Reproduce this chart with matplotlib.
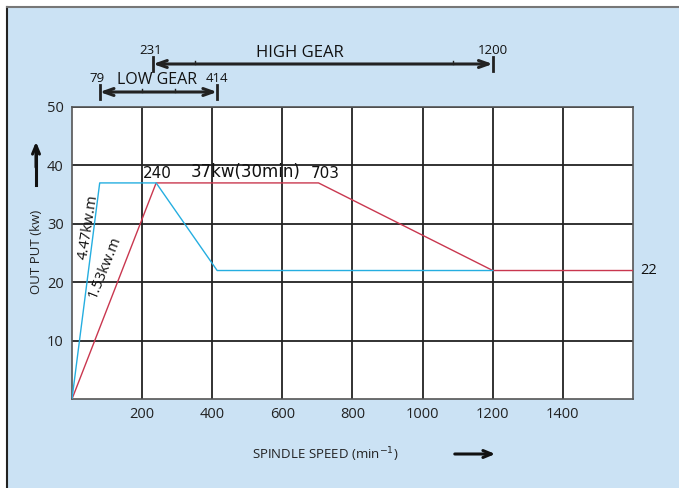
import matplotlib
matplotlib.use("Agg")
import matplotlib.pyplot as plt
from matplotlib.lines import Line2D
import matplotlib.transforms as mtransforms

# ---- data ----
cyan_speed = [0, 79, 240, 414, 1200]
cyan_power = [0, 37, 37, 22, 22]
red_speed = [0, 240, 703, 1200, 1600]
red_power = [0, 37, 37, 22, 22]
x_ticks = [200, 400, 600, 800, 1000, 1200, 1400]
y_ticks = [10, 20, 30, 40, 50]
low_gear = (79, 414)
high_gear = (231, 1200)
low_gear_marks = [200, 294]
high_gear_marks = [351, 1086]

BG = "#cbe2f4"
CYAN = "#25aee0"
RED = "#c9374f"

plt.rcParams['font.family'] = ['Open Sans', 'DejaVu Sans']

fig = plt.figure(figsize=(6.79, 4.88), dpi=100)
fig.patch.set_facecolor("white")
# blue panel with border
panel = plt.Rectangle((7/679, 0), 1 - 7/679, 1 - 7/488, transform=fig.transFigure,
                      facecolor=BG, edgecolor="none", zorder=-10)
fig.patches.append(panel)
fig.add_artist(Line2D([7/679, 7/679], [0, 1 - 6.5/488], transform=fig.transFigure,
                      color="#222222", lw=1.5, zorder=-5))
fig.add_artist(Line2D([7/679, 1], [1 - 6.5/488, 1 - 6.5/488], transform=fig.transFigure,
                      color="#777777", lw=1.5, zorder=-5))

ax = fig.add_axes([72/679, 1 - 399/488, (633 - 72)/679, (399 - 107)/488])
ax.set_facecolor("white")
ax.set_xlim(0, 1600)
ax.set_ylim(0, 50)
ax.set_xticks(x_ticks)
ax.set_yticks(y_ticks)
ax.tick_params(length=0, labelsize=10.5, pad=6, colors="#222222")
ax.grid(True, color="#222222", lw=1.3)
ax.set_axisbelow(True)
for s in ax.spines.values():
    s.set_color("#555555")
    s.set_linewidth(1.2)

ax.plot(red_speed, red_power, color=RED, lw=1.0, zorder=3)
ax.plot(cyan_speed, cyan_power, color=CYAN, lw=1.0, zorder=3)

# annotations inside
ax.text(red_speed[1] + 4, 37.3, "240", fontsize=11, family="DejaVu Sans", ha="center",
        va="bottom", color="#111111")
ax.text(494, 37.3, "37kw(30min)", fontsize=12, family="DejaVu Sans", ha="center",
        va="bottom", color="#111111")
ax.text(red_speed[2] + 20, 37.3, "703", fontsize=11, family="DejaVu Sans", ha="center",
        va="bottom", color="#111111")
ax.text(1620, red_power[-1], "22", fontsize=10.5, ha="left", va="center",
        color="#111111", clip_on=False)
ax.text(46, 29.5, "4.47kw.m", fontsize=10.5, rotation=81, ha="center", va="center",
        color="#111111")
ax.text(92, 22.5, "1.53kw.m", fontsize=10.5, rotation=68, ha="center", va="center",
        color="#111111")

# gear arrows (x in data, y in figure)
trans = mtransforms.blended_transform_factory(ax.transData, fig.transFigure)

def gear(rng, marks, ypix, label_y, dx0, dx1):
    y = 1 - ypix / 488
    ax.annotate("", xy=(rng[1], y), xytext=(rng[0], y), xycoords=trans, textcoords=trans,
                arrowprops=dict(arrowstyle="<->,head_length=0.7,head_width=0.25",
                                lw=2.2, color="#222222", shrinkA=0, shrinkB=0),
                annotation_clip=False)
    for xv in rng:
        ax.add_artist(Line2D([xv, xv], [y - 7/488, y + 7/488], transform=trans,
                             color="#222222", lw=2.0, clip_on=False))
    for xv in marks:
        ax.add_artist(Line2D([xv, xv], [y, y + 3/488], transform=trans,
                             color="#222222", lw=1.0, clip_on=False))
    ly = 1 - label_y / 488
    ax.text(rng[0] + dx0, ly, str(rng[0]), transform=trans, fontsize=9.5, ha="center",
            va="center", color="#111111")
    ax.text(rng[1] + dx1, ly, str(rng[1]), transform=trans, fontsize=9.5, ha="center",
            va="center", color="#111111")

gear(high_gear, high_gear_marks, 64, 51, -8, 0)
gear(low_gear, low_gear_marks, 92, 79, -8, 0)
fig.text(300/679, 1 - 53/488, "HIGH GEAR", fontsize=12, ha="center",
         va="center", color="#111111")
fig.text(157/679, 1 - 80/488, "LOW GEAR", fontsize=11.5, ha="center",
         va="center", color="#111111")

# axis labels
fig.text(37/679, 1 - 252/488, "OUT PUT (kw)", rotation=90, fontsize=9.5, ha="center",
         va="center", color="#222222")
fig.add_artist(plt.Line2D([36/679, 36/679], [1 - 185/488, 1 - 148/488], color="#111111",
                          lw=2.2))
fig.patches.append(matplotlib.patches.FancyArrowPatch(
    (36/679, 1 - 170/488), (36/679, 1 - 139/488), transform=fig.transFigure,
    arrowstyle="->,head_length=0.6,head_width=0.25", lw=2.2, color="#111111",
    mutation_scale=10))
fig.text(325/679, 1 - 455/488, "SPINDLE SPEED (min$^{-1}$)", fontsize=9.5, ha="center",
         va="center", color="#222222")
fig.patches.append(matplotlib.patches.FancyArrowPatch(
    (452/679, 1 - 454/488), (498/679, 1 - 454/488), transform=fig.transFigure,
    arrowstyle="->,head_length=0.6,head_width=0.25", lw=2.2, color="#111111",
    mutation_scale=10))

fig.savefig("out.png", dpi=100, facecolor=fig.get_facecolor())
